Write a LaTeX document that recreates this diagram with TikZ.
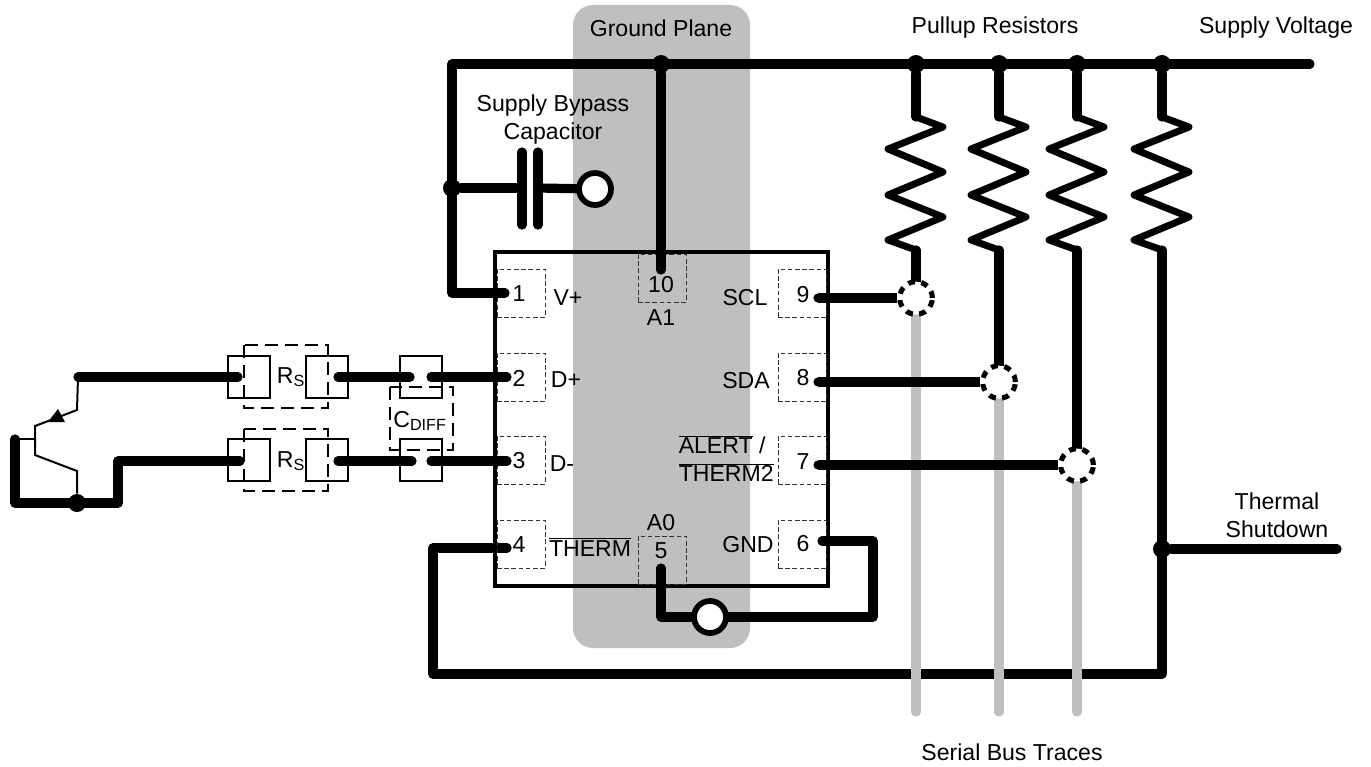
\documentclass[tikz,border=0pt]{standalone}
\usepackage{fontspec}
\setmainfont{Liberation Sans}
\definecolor{planegray}{HTML}{BFBFBF}
\newcommand{\barred}[1]{$\overline{\mbox{#1}}$}
\begin{document}
\begin{tikzpicture}[
    x=0.75pt,
    y=-0.75pt,
    every node/.style={font=\fontsize{17.3}{21}\selectfont, align=center, inner sep=0pt},
    wire/.style={draw, line width=6.9pt, line cap=round, line join=round},
    zigzag/.style={draw, line width=5.2pt, line cap=round, line join=round},
    thinwire/.style={draw, line width=1.5pt},
    trace/.style={draw=planegray, line width=6.8pt, line cap=round},
    pinbox/.style={draw=black!80, dash pattern=on 3.4pt off 2pt, line width=0.7pt, minimum size=36pt},
    padbox/.style={draw, line width=1.5pt, minimum size=31pt},
    dashframe/.style={draw, dash pattern=on 10pt off 5pt, line width=1.5pt},
    dotnode/.style={circle, fill=black, minimum size=13.5pt},
    ringnode/.style={circle, draw, fill=white, line width=4.3pt, minimum size=24pt},
    busnode/.style={circle, draw, fill=white, line width=3.8pt, dash pattern=on 5.2pt off 4.8pt, minimum size=24.5pt}
    ]
    \useasboundingbox (0,0) rectangle (1371,767);

    \fill[planegray, rounded corners=15pt] (573,5) rectangle (750,648);

    % outer thermal loop goes under the traces
    \coordinate (pad4) at (507,548);
    \coordinate (loopL) at (433,548);
    \coordinate (loopB) at (433,674);
    \coordinate (loopR) at (1162,674);
    \draw[wire] (pad4) -- (loopL) -- (loopB) -- (loopR);

    \foreach \x/\n in {916/A,999/B,1077/C}{
      \coordinate (traceTop\n) at (\x,250);
      \coordinate (traceEnd\n) at (\x,712);
      \draw[trace] (traceTop\n) -- (traceEnd\n);
    }

    \node[draw, line width=3.4pt, minimum width=249.75pt, minimum height=250.5pt] (chip) at (661.5,419) {};

    % pin pads
    \foreach \n/\x/\y in {1/521/293,2/521/377,3/521/460,4/521/544,
                          6/802/544,7/802/460,8/802/377,9/802/293,
                          5/662/560,10/662/278}{
      \node[pinbox] (pin\n) at (\x,\y) {};
    }
    \foreach \n/\x/\y in {1/519/294,2/519/378,3/519/461,4/519/545,
                          6/803/544,7/803/462,8/803/378,9/803/295,
                          5/661/551,10/661/285}{
      \node (num\n) at (\x,\y) {\n};
    }
    \node (lblVplus) at (568,298) {V+};
    \node (lblDplus) at (566,380) {D+};
    \node (lblDminus) at (562,464) {D-};
    \node (lblTherm) at (590,547) {\barred{THERM}};
    \node (lblAzero) at (661,523) {A0};
    \node (lblAone) at (661,318) {A1};
    \node (lblGnd) at (748,545) {GND};
    \node (lblScl) at (745,298) {SCL};
    \node (lblSda) at (746,381) {SDA};
    \node[align=left, anchor=west] (lblAlert) at (678.5,458.5) {\barred{ALERT} /\\\barred{THERM2}};

    \node (lblPlane) at (661,28) {Ground Plane};
    \node (lblPullup) at (995,28) {Pullup Resistors};
    \node (lblSupply) at (1276,28) {Supply Voltage};
    \node (lblBypass) at (553,120) {Supply Bypass\\Capacitor};
    \node (lblShutdown) at (1277,515) {Thermal\\Shutdown};
    \node (lblBus) at (1012,752) {Serial Bus Traces};

    % supply rail
    \coordinate (railL) at (452,64);
    \coordinate (railR) at (1310,64);
    \coordinate (pad1) at (505,293);
    \draw[wire] (railR) -- (railL) -- (452,293) -- (pad1);
    \node[dotnode] (jctRail) at (661,64) {};
    \node[dotnode] (jctCap) at (452,188) {};
    \coordinate (pad10) at (661,270);
    \draw[wire] (jctRail) -- (pad10);

    % bypass capacitor
    \coordinate (plateA) at (522,188);
    \coordinate (plateB) at (538,188);
    \node[ringnode] (gndCap) at (595,189) {};
    \draw[wire] (jctCap) -- (plateA);
    \draw[wire] (plateB) -- (gndCap);
    \draw[wire] (522,152) -- (522,225);
    \draw[wire] (538,152) -- (538,225);

    % pullups
    \foreach \x/\n/\yend in {916/A/282,999/B/366,1077/C/449,1162/D/549}{
      \node[dotnode] (jct\n) at (\x,64) {};
      \coordinate (resTop\n) at (\x,117);
      \coordinate (resEnd\n) at (\x,250);
      \coordinate (resOut\n) at (\x,\yend);
      \draw[wire] (jct\n) -- (resTop\n);
      \draw[zigzag] (resTop\n) -- ++(27,10) -- ++(-55,22) -- ++(55,23) -- ++(-55,23)
        -- ++(55,22) -- ++(-55,23) -- (resEnd\n);
      \draw[wire] (resEnd\n) -- (resOut\n);
    }
    \draw[wire] (resOutD) -- (loopR);

    % bus connections
    \node[busnode] (busA) at (916,298) {};
    \node[busnode] (busB) at (999,382) {};
    \node[busnode] (busC) at (1077,465) {};
    \coordinate (pad9) at (818,298);
    \coordinate (pad8) at (818,382);
    \coordinate (pad7) at (818,465);
    \draw[wire, line cap=butt] (pad9) -- (busA);
    \draw[wire, line cap=butt] (pad8) -- (busB);
    \draw[wire, line cap=butt] (pad7) -- (busC);
    \fill (pad9) circle[radius=3.45pt];
    \fill (pad8) circle[radius=3.45pt];
    \fill (pad7) circle[radius=3.45pt];

    % thermal shutdown
    \node[dotnode] (jctTherm) at (1162,549) {};
    \coordinate (shutEnd) at (1337,549);
    \draw[wire] (jctTherm) -- (shutEnd);

    % pins 5 and 6
    \node[ringnode] (gndPin) at (710,617) {};
    \coordinate (pad5) at (661,568);
    \coordinate (pad6) at (822,541);
    \draw[wire] (pad5) -- (661,617) -- (gndPin);
    \draw[wire] (gndPin) -- (873,617) -- (873,541) -- (pad6);

    % series resistors and filter cap
    \node[padbox] (rsAin) at (249,377) {};
    \node[padbox] (rsAout) at (327,377) {};
    \node[padbox] (capA) at (421,377) {};
    \node[padbox] (rsBin) at (249,460) {};
    \node[padbox] (rsBout) at (327,460) {};
    \node[padbox] (capB) at (421,460) {};
    \draw[dashframe] (244,345) rectangle (328,408);
    \draw[dashframe] (244,429) rectangle (328,491);
    \draw[dashframe] (390,387) rectangle (453,450);
    \node (lblRsA) at (291,377) {R\textsubscript{S}};
    \node (lblRsB) at (291,461) {R\textsubscript{S}};
    \node (lblCdiff) at (420,421) {C\textsubscript{DIFF}};

    \coordinate (emitter) at (78,377);
    \coordinate (rsAinPad) at (238,377);
    \coordinate (rsAoutPad) at (338,377);
    \coordinate (capAl) at (410,377);
    \coordinate (capAr) at (431,377);
    \coordinate (pad2) at (507,377);
    \draw[wire] (emitter) -- (rsAinPad);
    \draw[wire] (rsAoutPad) -- (capAl);
    \draw[wire] (capAr) -- (pad2);

    \coordinate (rsBinPad) at (240,461);
    \coordinate (rsBoutPad) at (338,461);
    \coordinate (capBl) at (412,461);
    \coordinate (capBr) at (431,461);
    \coordinate (pad3) at (507,461);
    \coordinate (baseEnd) at (15,439);
    \draw[wire] (rsBinPad) -- (118,461) -- (118,503) -- (15,503) -- (baseEnd);
    \draw[wire] (rsBoutPad) -- (capBl);
    \draw[wire] (capBr) -- (pad3);

    % transistor
    \node[dotnode] (jctBase) at (77,503) {};
    \draw[thinwire] (emitter) -- (77,410) -- (35,426) -- (35,455) -- (77,471) -- (jctBase);
    \draw[thinwire] (35,439) -- (baseEnd);
    \fill (48,422) -- (58,409) -- (65,422) -- cycle;
\end{tikzpicture}
\end{document}
